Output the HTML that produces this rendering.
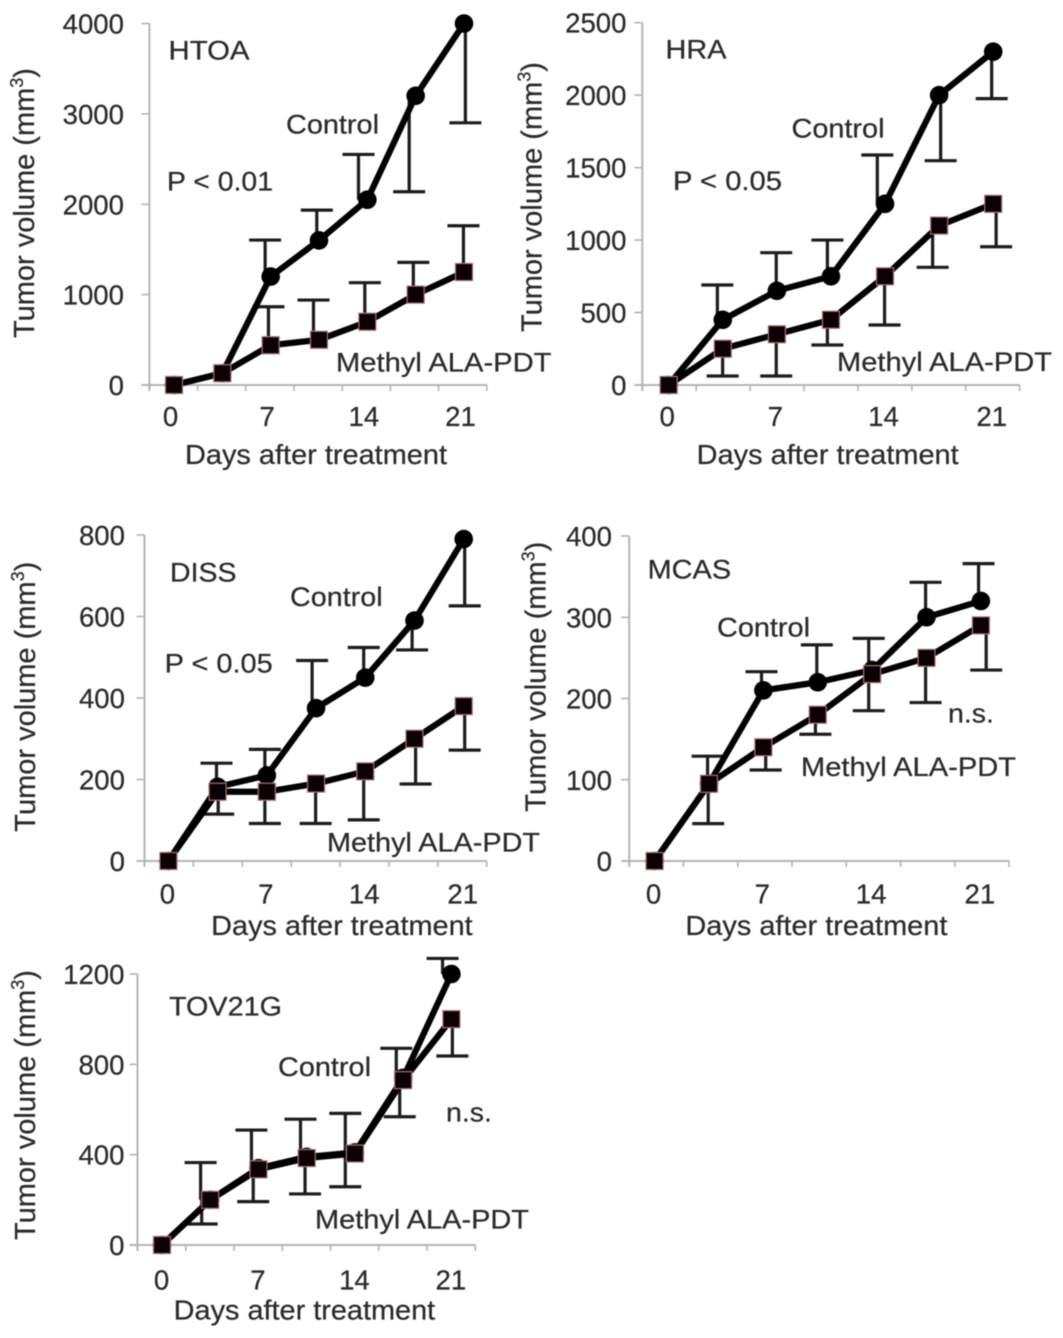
<!DOCTYPE html>
<html lang="en">
<head>
<meta charset="utf-8">
<title>Tumor volume after treatment</title>
<style>
html,body{margin:0;padding:0;background:#fff;}
svg{display:block;filter:blur(0.55px);}
text{font-family:"Liberation Sans",sans-serif;fill:#2b2b2b;stroke:#2b2b2b;stroke-width:0.25px;font-size:27.6px;}
.note{font-size:26.8px;}
.ytitle{font-size:29px;}
</style>
</head>
<body>
<svg id="figure" xmlns="http://www.w3.org/2000/svg" width="1063" height="1338" viewBox="0 0 1063 1338">
<rect x="0" y="0" width="1063" height="1338" fill="#fff"/>

<g>
<g id="htoa-marks"></g>
<text transform="translate(34 338) rotate(-90)" class="ytitle">Tumor volume (mm<tspan font-size="18" dy="-11">3</tspan><tspan dy="11">)</tspan></text>
<text x="185" y="464" textLength="262" lengthAdjust="spacingAndGlyphs">Days after treatment</text>
<text x="168.5" y="59.3" textLength="81" lengthAdjust="spacingAndGlyphs" class="note">HTOA</text>
<text x="286" y="133.3" textLength="93" lengthAdjust="spacingAndGlyphs" class="note">Control</text>
<text x="167" y="190.7" textLength="106" lengthAdjust="spacingAndGlyphs" class="note">P &lt; 0.01</text>
<text x="336" y="371.7" textLength="215.5" lengthAdjust="spacingAndGlyphs" class="note">Methyl ALA-PDT</text>
</g>

<g>
<g id="hra-marks"></g>
<text transform="translate(541.7 332) rotate(-90)" class="ytitle">Tumor volume (mm<tspan font-size="18" dy="-11">3</tspan><tspan dy="11">)</tspan></text>
<text x="696.7" y="464" textLength="262" lengthAdjust="spacingAndGlyphs">Days after treatment</text>
<text x="665.5" y="58.3" textLength="61" lengthAdjust="spacingAndGlyphs" class="note">HRA</text>
<text x="791.5" y="137.7" textLength="93" lengthAdjust="spacingAndGlyphs" class="note">Control</text>
<text x="673" y="190" textLength="109" lengthAdjust="spacingAndGlyphs" class="note">P &lt; 0.05</text>
<text x="837" y="371" textLength="215" lengthAdjust="spacingAndGlyphs" class="note">Methyl ALA-PDT</text>
</g>

<g>
<g id="diss-marks"></g>
<text transform="translate(35 831.7) rotate(-90)" class="ytitle">Tumor volume (mm<tspan font-size="18" dy="-11">3</tspan><tspan dy="11">)</tspan></text>
<text x="211.2" y="935" textLength="261.5" lengthAdjust="spacingAndGlyphs">Days after treatment</text>
<text x="170" y="581.7" textLength="66.5" lengthAdjust="spacingAndGlyphs" class="note">DISS</text>
<text x="290" y="606" textLength="92.6" lengthAdjust="spacingAndGlyphs" class="note">Control</text>
<text x="164.6" y="672.3" textLength="108.2" lengthAdjust="spacingAndGlyphs" class="note">P &lt; 0.05</text>
<text x="327" y="851.7" textLength="213" lengthAdjust="spacingAndGlyphs" class="note">Methyl ALA-PDT</text>
</g>

<g>
<g id="mcas-marks"></g>
<text transform="translate(545.3 811.7) rotate(-90)" class="ytitle">Tumor volume (mm<tspan font-size="18" dy="-11">3</tspan><tspan dy="11">)</tspan></text>
<text x="685.4" y="935" textLength="262" lengthAdjust="spacingAndGlyphs">Days after treatment</text>
<text x="647.6" y="578.3" textLength="83.5" lengthAdjust="spacingAndGlyphs" class="note">MCAS</text>
<text x="717" y="636.7" textLength="93" lengthAdjust="spacingAndGlyphs" class="note">Control</text>
<text x="948" y="722.3" textLength="46" lengthAdjust="spacingAndGlyphs" class="note">n.s.</text>
<text x="801" y="776" textLength="215" lengthAdjust="spacingAndGlyphs" class="note">Methyl ALA-PDT</text>
</g>

<g>
<g id="tov-marks"></g>
<text transform="translate(35 1240) rotate(-90)" class="ytitle">Tumor volume (mm<tspan font-size="18" dy="-11">3</tspan><tspan dy="11">)</tspan></text>
<text x="173.7" y="1319.3" textLength="261.5" lengthAdjust="spacingAndGlyphs">Days after treatment</text>
<text x="169" y="1015.7" textLength="113" lengthAdjust="spacingAndGlyphs" class="note">TOV21G</text>
<text x="278" y="1076" textLength="93" lengthAdjust="spacingAndGlyphs" class="note">Control</text>
<text x="446" y="1121.7" textLength="46" lengthAdjust="spacingAndGlyphs" class="note">n.s.</text>
<text x="315" y="1228.3" textLength="214" lengthAdjust="spacingAndGlyphs" class="note">Methyl ALA-PDT</text>
</g>
</svg>

<script>
// Shared category data
const days = [0, 3.5, 7, 10.5, 14, 17.5, 21];
const xTickLabels = [0, 7, 14, 21];

// HTOA
const htoaTicks = [0, 1000, 2000, 3000, 4000];
const htoaControl = [0, 130, 1200, 1600, 2050, 3200, 4000];
const htoaTreated = [0, 130, 440, 500, 700, 1000, 1250];
const htoaControlErr = [null, null, 1604, 1935, 2551, 2138, 2901];
const htoaTreatedErr = [null, null, 866, 940, 1132, 1357, 1762];
const htoaControlErrDays = [0, 3.5, 6.6, 10.34, 13.36, 17.03, 21.1];
const htoaTreatedErrDays = [0, 3.5, 6.84, 10.1, 13.82, 17.33, 20.96];

// HRA
const hraTicks = [0, 500, 1000, 1500, 2000, 2500];
const hraControl = [0, 450, 650, 750, 1250, 2000, 2300];
const hraTreated = [0, 250, 350, 450, 750, 1100, 1250];
const hraControlErr = [null, 690, 913, 1000, 1587, 1548, 1976];
const hraTreatedErr = [null, 62, 62, 276, 414, 812, 954];
const hraControlErrDays = [0, 3.15, 6.96, 10.27, 13.5, 17.6, 20.9];
const hraTreatedErrDays = [0, 3.49, 6.96, 10.27, 13.97, 17.08, 21.19];

// DISS
const dissTicks = [0, 200, 400, 600, 800];
const dissControl = [0, 182, 210, 375, 450, 590, 790];
const dissTreated = [0, 170, 170, 190, 220, 300, 380];
const dissControlErr = [null, 240, 274, 492, 524, 518, 626];
const dissTreatedErr = [null, 115, 92, 92, 101, 189, 272];
const dissControlErrDays = [0, 3.42, 6.86, 10.22, 13.89, 17.33, 21.07];
const dissTreatedErrDays = [0, 3.54, 6.86, 10.47, 13.89, 17.58, 21.07];

// MCAS
const mcasTicks = [0, 100, 200, 300, 400];
const mcasControl = [0, 95, 210, 220, 235, 300, 320];
const mcasTreated = [0, 95, 140, 180, 230, 250, 290];
const mcasControlErr = [null, 129, 233, 266, 274, 343, 366];
const mcasTreatedErr = [null, 46, 112, 156, 185, 195, 235];
const mcasControlErrDays = [0, 3.41, 6.88, 10.44, 13.78, 17.44, 20.85];
const mcasTreatedErrDays = [0, 3.45, 7.15, 10.35, 13.78, 17.44, 21.34];

// TOV21G
const tovTicks = [0, 400, 800, 1200];
const tovControl = [0, 200, 340, 390, 410, 740, 1200];
const tovTreated = [0, 200, 335, 385, 405, 730, 1000];
const tovControlErr = [null, 365, 509, 557, 583, 871, 1269];
const tovTreatedErr = [null, 93, 192, 226, 258, 568, 837];
const tovControlErrDays = [0, 2.8, 6.49, 10.05, 13.3, 17, 20.36];
const tovTreatedErrDays = [0, 2.88, 6.62, 10.38, 13.3, 17.25, 21.07];

const SVG_NS = 'http://www.w3.org/2000/svg';

function make(tag, parent) {
  const el = document.createElementNS(SVG_NS, tag);
  parent.appendChild(el);
  return el;
}

function setLine(el, x1, y1, x2, y2, color, width) {
  el.setAttribute('x1', x1);
  el.setAttribute('y1', y1);
  el.setAttribute('x2', x2);
  el.setAttribute('y2', y2);
  el.setAttribute('stroke', color);
  el.setAttribute('stroke-width', width);
}

function drawPanel(p) {
  const root = document.getElementById(p.id);
  const x = function (day) { return p.x0 + day * (p.x21 - p.x0) / 21; };
  const y = function (v) { return p.y0 - v * (p.y0 - p.yTop) / p.yMax; };
  const axisColor = '#b4b4b4';

  const yAxis = make('line', root);
  
  
  setLine(yAxis, p.axisX, p.yTop, p.axisX, p.y0 + 6, axisColor, 2);

  const xAxis = make('line', root);
  
  
  setLine(xAxis, p.axisX - 8, p.y0, p.axisEnd, p.y0, axisColor, 2);

  p.ticks.forEach(function (v) {
    const tick = make('line', root);
    
    
    setLine(tick, p.axisX - 8, y(v), p.axisX, y(v), axisColor, 1.6);
    const label = make('text', root);
    
    
    label.setAttribute('x', p.tickRight);
    label.setAttribute('y', y(v) + 10);
    label.setAttribute('text-anchor', 'end');
    label.textContent = v;
  });

  days.forEach(function (d, i) {
    const tx = p.axisX + (i + 1) * (p.axisEnd - p.axisX) / days.length;
    const tick = make('line', root);
    
    
    setLine(tick, tx, p.y0, tx, p.y0 + 6, axisColor, 1.6);
  });

  xTickLabels.forEach(function (d) {
    const label = make('text', root);
    
    
    label.setAttribute('x', x(d) + p.labelShift);
    label.setAttribute('y', p.xLabelY);
    label.setAttribute('text-anchor', 'middle');
    label.textContent = d;
  });

  [[p.control, p.controlErr, p.controlErrDays], [p.treated, p.treatedErr, p.treatedErrDays]].forEach(function (set) {
    set[1].forEach(function (end, i) {
      if (end === null) return;
      const bx = x(set[2][i]);
      const stem = make('line', root);
      
      
      setLine(stem, bx, y(set[0][i]), bx, y(end), '#1c1c1c', 3.2);
      const cap = make('line', root);
      
      
      setLine(cap, bx - 16, y(end), bx + 16, y(end), '#1c1c1c', 3.2);
    });
  });

  const controlLine = make('polyline', root);
  
  
  controlLine.setAttribute('points', p.control.map(function (v, i) { return x(days[i]) + ',' + y(v); }).join(' '));
  controlLine.setAttribute('fill', 'none');
  controlLine.setAttribute('stroke', '#000');
  controlLine.setAttribute('stroke-width', 6.2);
  controlLine.setAttribute('stroke-linejoin', 'round');

  const treatedLine = make('polyline', root);
  
  
  treatedLine.setAttribute('points', p.treated.map(function (v, i) { return x(days[i]) + ',' + y(v); }).join(' '));
  treatedLine.setAttribute('fill', 'none');
  treatedLine.setAttribute('stroke', '#000');
  treatedLine.setAttribute('stroke-width', 6.2);
  treatedLine.setAttribute('stroke-linejoin', 'round');

  p.control.forEach(function (v, i) {
    const dot = make('circle', root);
    
    
    dot.setAttribute('cx', x(days[i]));
    dot.setAttribute('cy', y(v));
    dot.setAttribute('r', 9.3);
    dot.setAttribute('fill', '#000');
  });

  p.treated.forEach(function (v, i) {
    const sq = make('rect', root);
    
    
    sq.setAttribute('x', x(days[i]) - 8.5);
    sq.setAttribute('y', y(v) - 8.5);
    sq.setAttribute('width', 17);
    sq.setAttribute('height', 17);
    sq.setAttribute('fill', '#0a0205');
    sq.setAttribute('stroke', '#a87078');
    sq.setAttribute('stroke-width', 1.2);
  });
}

drawPanel({ id: 'htoa-marks', x0: 174, x21: 464, y0: 385, yTop: 23.5, yMax: 4000, axisX: 149.4, axisEnd: 486.8, tickRight: 124, xLabelY: 426, labelShift: -3.5,
  ticks: htoaTicks, control: htoaControl, treated: htoaTreated, controlErr: htoaControlErr, treatedErr: htoaTreatedErr, controlErrDays: htoaControlErrDays, treatedErrDays: htoaTreatedErrDays });
drawPanel({ id: 'hra-marks', x0: 668.7, x21: 993.2, y0: 385, yTop: 22.7, yMax: 2500, axisX: 642.3, axisEnd: 1019.7, tickRight: 626.5, xLabelY: 426, labelShift: -1.5,
  ticks: hraTicks, control: hraControl, treated: hraTreated, controlErr: hraControlErr, treatedErr: hraTreatedErr, controlErrDays: hraControlErrDays, treatedErrDays: hraTreatedErrDays });
drawPanel({ id: 'diss-marks', x0: 168.4, x21: 463.7, y0: 861, yTop: 535, yMax: 800, axisX: 144.5, axisEnd: 486.8, tickRight: 125, xLabelY: 903.3, labelShift: -1,
  ticks: dissTicks, control: dissControl, treated: dissTreated, controlErr: dissControlErr, treatedErr: dissTreatedErr, controlErrDays: dissControlErrDays, treatedErrDays: dissTreatedErrDays });
drawPanel({ id: 'mcas-marks', x0: 654.6, x21: 980.9, y0: 861, yTop: 536, yMax: 400, axisX: 629.2, axisEnd: 1009.1, tickRight: 612, xLabelY: 903.3, labelShift: -1,
  ticks: mcasTicks, control: mcasControl, treated: mcasTreated, controlErr: mcasControlErr, treatedErr: mcasTreatedErr, controlErrDays: mcasControlErrDays, treatedErrDays: mcasTreatedErrDays });
drawPanel({ id: 'tov-marks', x0: 162, x21: 451.4, y0: 1245, yTop: 974, yMax: 1200, axisX: 137.5, axisEnd: 475.3, tickRight: 124.5, xLabelY: 1289.3, labelShift: -0.5,
  ticks: tovTicks, control: tovControl, treated: tovTreated, controlErr: tovControlErr, treatedErr: tovTreatedErr, controlErrDays: tovControlErrDays, treatedErrDays: tovTreatedErrDays });
</script>
</body>
</html>
